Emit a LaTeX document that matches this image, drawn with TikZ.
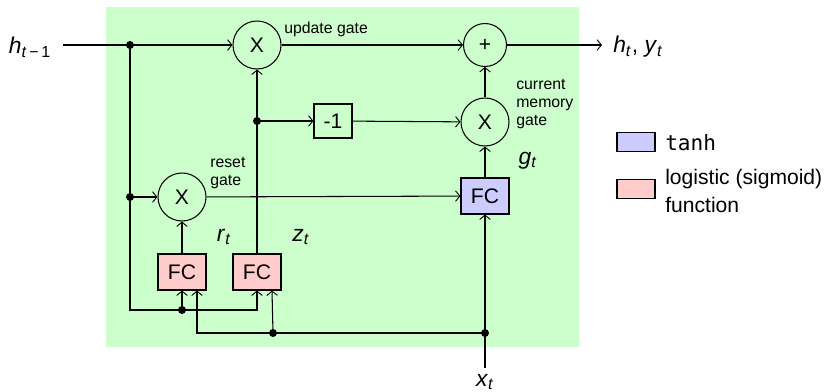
\documentclass[tikz,border=0pt]{standalone}
\usepackage{fontspec}
\setmainfont{Liberation Sans}
\setmonofont{DejaVu Sans Mono}
\usetikzlibrary{arrows.meta,positioning}
\definecolor{cellgreen}{RGB}{204,255,204}
\definecolor{fcblue}{RGB}{204,204,255}
\definecolor{fcpink}{RGB}{255,204,204}
\newcommand{\vr}[2]{\textit{#1}\textsubscript{#2}}

\begin{document}
\begin{tikzpicture}[>={Straight Barb[length=2.5pt,width=6pt,line width=0.5pt]},x=0.02cm,y=-0.02cm,
  line width=0.6pt,font=\fontsize{12}{15.5}\selectfont,
  gate/.style={draw,circle,inner sep=0pt,minimum size=0.96cm},
  fcbox/.style={draw,inner sep=0pt,minimum width=0.96cm,minimum height=0.72cm},
  tag/.style={inner sep=1pt,font=\fontsize{9}{10.3}\selectfont,align=left,anchor=west},
  var/.style={inner sep=1pt,font=\fontsize{13}{15}\selectfont}]
\useasboundingbox (0,0) rectangle (825,392);
% cell background
\fill[cellgreen] (106,7) rectangle (579,347);
% gates and layers
\node[gate] (upd) at (257,45) {X};
\node[gate,minimum size=0.86cm] (plus) at (485,45) {+};
\node[gate] (mem) at (485,122) {X};
\node[gate] (rst) at (182,197) {X};
\node[draw,inner sep=0pt,minimum width=0.76cm,minimum height=0.68cm] (neg) at (333,121) {-1};
\node[fcbox,fill=fcblue] (fcg) at (485,196) {FC};
\node[fcbox,fill=fcpink] (fcr) at (182,272) {FC};
\node[fcbox,fill=fcpink] (fcz) at (257,272) {FC};
% inputs, outputs and junctions
\node[var] (hprev) at (30,47) {\vr{h}{\textit{t}\,−\,1}};
\coordinate (hin) at (63,45);
\coordinate (hout) at (602,45);
\node[var,anchor=west] (hy) at (611,47) {\vr{h}{\textit{t}}, \vr{y}{\textit{t}}};
\coordinate (xin) at (485,368);
\node[var] (x) at (485,382) {\vr{x}{\textit{t}}};
\coordinate (j1) at (130,45);
\coordinate (j2) at (130,197);
\coordinate (j3) at (257,121);
\coordinate (c1) at (130,310);
\coordinate (j4) at (182,310);
\coordinate (j5) at (273,333);
\coordinate (j6) at (485,333);
% connectors
\draw[->] (hin) -- (upd);
\draw[->] (upd) -- (plus);
\draw[->] (plus) -- (hout);
\draw[->] (j1) -- (c1) -| (fcz.south);
\draw[->] (j2) -- (rst);
\draw[->] (j4) -- (fcr.south);
\draw[->] (rst) -- (fcg);
\draw[->] (fcr) -- (rst);
\draw[->] (fcz) -- (upd);
\draw[->] (j3) -- (neg);
\draw[->] (neg) -- (mem);
\draw[->] (mem) -- (plus);
\draw[->] (fcg) -- (mem);
\draw[->] (xin) -- (fcg);
\draw[->] (j6) -| ([xshift=0.3cm]fcr.south);
\draw[->] (j5) -- ([xshift=0.3cm]fcz.south);
\foreach \p in {j1,j2,j3,j4,j5,j6}
  \fill (\p) circle (0.08cm);
% labels
\node[tag] (lupd) at (282,29) {update gate};
\node[tag] (lrst) at (208,173) {reset\\gate};
\node[tag] (lmem) at (514,104) {current\\memory\\gate};
\node[var] (g) at (528,161) {\vr{g}{\textit{t}}};
\node[var] (r) at (224,237) {\vr{r}{\textit{t}}};
\node[var] (z) at (301,237) {\vr{z}{\textit{t}}};
% legend
\node[draw,fill=fcblue,inner sep=0pt,minimum width=0.76cm,minimum height=0.38cm] (kblue) at (636,142) {};
\node[anchor=west,inner sep=1pt] (ktanh) at (663,143) {\texttt{tanh}};
\node[draw,fill=fcpink,inner sep=0pt,minimum width=0.76cm,minimum height=0.38cm] (kpink) at (636,189) {};
\node[anchor=west,inner sep=1pt,align=left] (ksig) at (663,191) {logistic (sigmoid)\\function};
\end{tikzpicture}
\end{document}
